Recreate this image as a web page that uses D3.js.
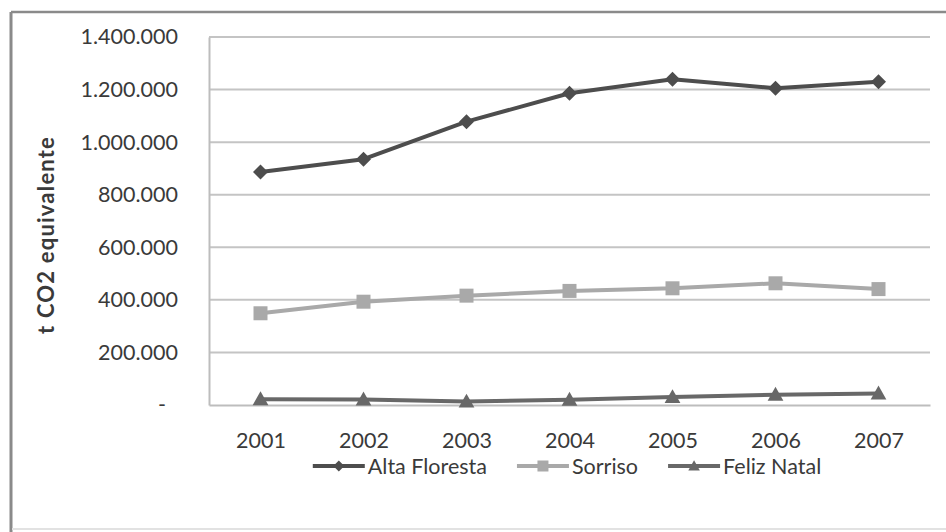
<!DOCTYPE html>
<html>
<head>
<meta charset="utf-8">
<script src="https://cdn.jsdelivr.net/npm/d3@7"></script>
<style>
  html, body { margin: 0; padding: 0; background: #fff; }
  svg { display: block; }
  text { font-family: Lato, "Open Sans", sans-serif; fill: #3a3a3a; }
</style>
</head>
<body>
<svg id="chart" width="946" height="532"></svg>
<script>
// Emissions per municipality, tonnes of CO2 equivalent
const years = ["2001", "2002", "2003", "2004", "2005", "2006", "2007"];
const altaFloresta = [886000, 935000, 1078000, 1186000, 1239000, 1205000, 1230000];
const sorriso = [349000, 393000, 416000, 434000, 444000, 463000, 441000];
const felizNatal = [22000, 21000, 13000, 20000, 30000, 39000, 44000];
const yTicks = [0, 200000, 400000, 600000, 800000, 1000000, 1200000, 1400000];
const seriesNames = ["Alta Floresta", "Sorriso", "Feliz Natal"];

const series = [
  { name: seriesNames[0], values: altaFloresta, color: "#4d4d4d", marker: "diamond" },
  { name: seriesNames[1], values: sorriso, color: "#a9a9a9", marker: "square" },
  { name: seriesNames[2], values: felizNatal, color: "#686868", marker: "triangle" }
];

const svg = d3.select("#chart");
const W = 946, H = 532;
const plot = { left: 209, right: 930, top: 37, bottom: 405 };
const labelSize = "21.5px";

// outer frame (top and left edges, faint bottom edge)
svg.append("line").attr("x1", 11).attr("x2", W).attr("y1", 12).attr("y2", 12)
  .attr("stroke", "#8a8a8a").attr("stroke-width", 2.5);
svg.append("line").attr("x1", 11).attr("x2", 11).attr("y1", 12).attr("y2", H)
  .attr("stroke", "#8a8a8a").attr("stroke-width", 3);
svg.append("line").attr("x1", 12).attr("x2", W).attr("y1", 529).attr("y2", 529)
  .attr("stroke", "#e2e2e2").attr("stroke-width", 2);

const x = d3.scalePoint().domain(years).range([plot.left, plot.right]).padding(0.5);
const y = d3.scaleLinear().domain([0, 1400000]).range([plot.bottom, plot.top]);

const locale = d3.formatLocale({ decimal: ",", thousands: ".", grouping: [3], currency: ["", ""] });
const fmt = locale.format(",");

// horizontal gridlines
svg.append("g").selectAll("line").data(yTicks.filter(d => d > 0)).join("line")
  .attr("x1", plot.left).attr("x2", plot.right)
  .attr("y1", d => y(d)).attr("y2", d => y(d))
  .attr("stroke", "#c4c4c4").attr("stroke-width", 2);

// y axis
const yAxis = svg.append("g").attr("transform", `translate(${plot.left},0)`)
  .call(d3.axisLeft(y).tickValues(yTicks).tickSize(0).tickPadding(31)
    .tickFormat(d => d === 0 ? "-" : fmt(d)));
yAxis.select(".domain").attr("stroke", "#bdbdbd").attr("stroke-width", 2);
yAxis.selectAll("text").style("font-size", labelSize).attr("fill", "#3a3a3a")
  .attr("font-family", "Lato, sans-serif");
yAxis.selectAll(".tick").filter(d => d === 0).select("text").attr("dx", -12);

// x axis
const xAxis = svg.append("g").attr("transform", `translate(0,${plot.bottom})`)
  .call(d3.axisBottom(x).tickSize(0).tickPadding(28));
xAxis.select(".domain").attr("stroke", "#bdbdbd").attr("stroke-width", 2);
xAxis.selectAll("text").style("font-size", labelSize).attr("fill", "#3a3a3a")
  .attr("font-family", "Lato, sans-serif");

// y axis title
svg.append("text")
  .attr("transform", `translate(45,${(plot.top + plot.bottom) / 2 + 14}) rotate(-90)`)
  .attr("text-anchor", "middle").attr("dominant-baseline", "central")
  .style("font-size", "22px").style("font-weight", "bold").style("letter-spacing", "1.2px")
  .attr("fill", "#333")
  .text("t CO2 equivalente");

function markerPath(type, size) {
  const s = size;
  if (type === "diamond") return `M0,${-s}L${s},0L0,${s}L${-s},0Z`;
  if (type === "square") return `M${-s},${-s}H${s}V${s}H${-s}Z`;
  return `M0,${-s * 1.05}L${s * 1.05},${s * 0.8}L${-s * 1.05},${s * 0.8}Z`;
}
const markerSize = { diamond: 7.5, square: 7, triangle: 7.5 };

const line = d3.line().x((d, i) => x(years[i])).y(d => y(d));

series.forEach(s => {
  const g = svg.append("g");
  g.append("path").datum(s.values).attr("d", line)
    .attr("fill", "none").attr("stroke", s.color).attr("stroke-width", 4)
    .attr("stroke-linejoin", "round");
  g.selectAll("path.mk").data(s.values).join("path").attr("class", "mk")
    .attr("transform", (d, i) => `translate(${x(years[i])},${y(d)})`)
    .attr("d", markerPath(s.marker, markerSize[s.marker]))
    .attr("fill", s.color);
});

// legend
const legend = svg.append("g").attr("transform", "translate(0,466)");
const items = [];
series.forEach(s => {
  const g = legend.append("g");
  g.append("line").attr("x1", 0).attr("x2", 52).attr("y1", 0).attr("y2", 0)
    .attr("stroke", s.color).attr("stroke-width", 4);
  g.append("path").attr("transform", "translate(26,0)")
    .attr("d", markerPath(s.marker, 5.5)).attr("fill", s.color);
  const t = g.append("text").attr("x", 55).attr("y", 0).attr("dominant-baseline", "central")
    .style("font-size", labelSize).text(s.name);
  const w = 55 + t.node().getComputedTextLength();
  items.push({ g, w });
});
const gap = 30;
const total = d3.sum(items, d => d.w) + gap * (items.length - 1);
let start = 567 - total / 2;
items.forEach(it => {
  it.g.attr("transform", `translate(${start},0)`);
  start += it.w + gap;
});
</script>
</body>
</html>
